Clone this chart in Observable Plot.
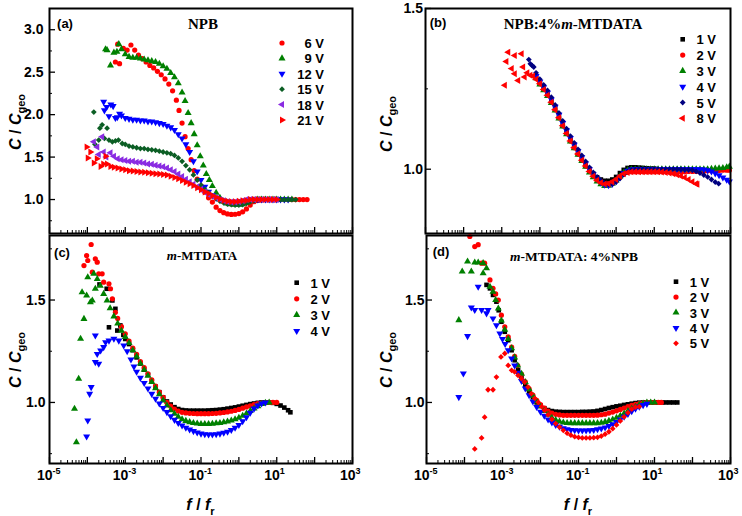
<!DOCTYPE html>
<html><head><meta charset="utf-8">
<script src="https://cdn.jsdelivr.net/npm/d3@7"></script>
<script src="https://cdn.jsdelivr.net/npm/@observablehq/plot@0.6"></script>
<style>
body{margin:0;background:#fff;}
#root{position:relative;width:742px;height:516px;overflow:hidden;background:#fff;}
</style></head><body><div id="root"></div>
<script>
// ---------- DATA: [log10(f/fr), C/Cgeo] ----------
// Panel (a) NPB
const a6V = [[-3.26,2.62],[-3.15,2.60],[-3.20,2.83],[-3.05,2.78],[-2.95,2.76],[-2.85,2.82],[-2.75,2.76],[-2.65,2.70],[-2.55,2.66],[-2.45,2.62],[-2.35,2.58],[-2.25,2.55],[-2.15,2.51],[-2.05,2.47],[-1.95,2.42],[-1.85,2.36],[-1.75,2.28],[-1.65,2.17],[-1.58,2.05],[-1.50,1.90],[-1.42,1.74],[-1.34,1.60],[-1.26,1.47],[-1.18,1.34],[-1.10,1.24],[-1.00,1.16],[-0.90,1.09],[-0.80,1.02],[-0.70,0.97],[-0.60,0.91],[-0.50,0.87],[-0.40,0.845],[-0.30,0.83],[-0.20,0.825],[-0.10,0.827],[0.00,0.835],[0.10,0.855],[0.20,0.89],[0.30,0.935],[0.40,0.975],[0.50,0.99],[0.60,0.995],[0.70,1.0],[0.80,1.0],[0.90,1.0],[1.00,1.0],[1.10,1.0],[1.20,1.0],[1.30,1.0],[1.40,1.0],[1.50,1.0],[1.60,1.0],[1.70,1.0],[1.80,1.0]];
const a9V = [[-3.52,2.77],[-3.48,2.76],[-3.39,2.58],[-3.30,2.73],[-3.22,2.74],[-3.17,2.83],[-3.10,2.77],[-3.00,2.71],[-2.90,2.68],[-2.80,2.67],[-2.70,2.67],[-2.60,2.66],[-2.50,2.65],[-2.40,2.64],[-2.30,2.63],[-2.20,2.62],[-2.10,2.60],[-2.00,2.57],[-1.90,2.54],[-1.80,2.49],[-1.70,2.44],[-1.60,2.37],[-1.50,2.26],[-1.42,2.16],[-1.34,2.02],[-1.26,1.90],[-1.18,1.77],[-1.10,1.64],[-1.02,1.51],[-0.94,1.40],[-0.86,1.30],[-0.78,1.23],[-0.70,1.16],[-0.60,1.08],[-0.50,1.02],[-0.40,0.98],[-0.30,0.955],[-0.20,0.945],[-0.10,0.94],[0.00,0.94],[0.10,0.945],[0.20,0.96],[0.30,0.98],[0.40,0.99],[0.50,1.0],[0.60,1.0],[0.70,1.0],[0.80,1.0],[0.90,1.0],[1.00,1.0],[1.10,1.0],[1.20,1.0],[1.30,1.0],[1.40,1.0]];
const a12V = [[-3.57,2.15],[-3.55,2.05],[-3.49,2.09],[-3.43,1.98],[-3.38,2.12],[-3.32,2.10],[-3.26,1.96],[-3.21,1.97],[-3.15,2.01],[-3.10,1.99],[-3.00,1.96],[-2.90,1.95],[-2.80,1.94],[-2.70,1.94],[-2.60,1.93],[-2.50,1.93],[-2.40,1.92],[-2.30,1.92],[-2.20,1.91],[-2.10,1.90],[-2.00,1.89],[-1.90,1.87],[-1.80,1.85],[-1.70,1.82],[-1.60,1.77],[-1.50,1.72],[-1.40,1.65],[-1.30,1.56],[-1.20,1.45],[-1.10,1.33],[-1.00,1.23],[-0.90,1.15],[-0.80,1.09],[-0.70,1.05],[-0.60,1.02],[-0.50,1.0],[-0.40,0.985],[-0.30,0.975],[-0.20,0.97],[-0.10,0.97],[0.00,0.975],[0.10,0.98],[0.20,0.99],[0.30,1.0],[0.40,1.0],[0.50,1.0],[0.60,1.0],[0.70,1.0],[0.80,1.0],[0.90,1.0],[1.00,1.0],[1.10,1.0],[1.20,1.0],[1.30,1.0]];
const a15V = [[-3.83,2.03],[-3.80,1.65],[-3.70,1.70],[-3.67,1.84],[-3.61,1.88],[-3.55,1.72],[-3.48,1.84],[-3.43,1.70],[-3.34,1.68],[-3.26,1.69],[-3.18,1.70],[-3.08,1.66],[-3.00,1.65],[-2.90,1.63],[-2.80,1.62],[-2.70,1.61],[-2.60,1.60],[-2.50,1.60],[-2.40,1.59],[-2.30,1.585],[-2.20,1.58],[-2.10,1.57],[-2.00,1.56],[-1.90,1.55],[-1.80,1.54],[-1.70,1.52],[-1.60,1.49],[-1.50,1.45],[-1.40,1.40],[-1.30,1.35],[-1.20,1.29],[-1.10,1.23],[-1.00,1.17],[-0.90,1.12],[-0.80,1.08],[-0.70,1.04],[-0.60,1.01],[-0.50,0.98],[-0.40,0.96],[-0.30,0.945],[-0.20,0.94],[-0.10,0.935],[0.00,0.935],[0.10,0.94],[0.20,0.955],[0.30,0.975],[0.40,0.99],[0.50,1.0],[0.60,1.0],[0.70,1.0],[0.80,1.0],[0.90,1.0],[1.00,1.0],[1.10,1.0],[1.20,1.0],[1.30,1.0],[1.40,1.0],[1.50,1.0]];
const a18V = [[-3.83,1.68],[-3.74,1.62],[-3.70,1.53],[-3.61,1.74],[-3.57,1.56],[-3.50,1.50],[-3.39,1.55],[-3.30,1.51],[-3.20,1.48],[-3.10,1.47],[-3.00,1.46],[-2.90,1.45],[-2.80,1.45],[-2.70,1.44],[-2.60,1.44],[-2.50,1.43],[-2.40,1.42],[-2.30,1.415],[-2.20,1.405],[-2.10,1.395],[-2.00,1.385],[-1.90,1.37],[-1.80,1.35],[-1.70,1.33],[-1.60,1.30],[-1.50,1.27],[-1.40,1.24],[-1.30,1.21],[-1.20,1.18],[-1.10,1.15],[-1.00,1.12],[-0.90,1.09],[-0.80,1.06],[-0.70,1.04],[-0.60,1.02],[-0.50,1.0],[-0.40,0.985],[-0.30,0.975],[-0.20,0.97],[-0.10,0.97],[0.00,0.975],[0.10,0.985],[0.20,1.0],[0.30,1.0],[0.40,1.0],[0.50,1.0],[0.60,1.0],[0.70,1.0],[0.80,1.0],[0.90,1.0],[1.00,1.0]];
const a21V = [[-4.02,1.62],[-3.99,1.49],[-3.92,1.56],[-3.83,1.43],[-3.75,1.48],[-3.65,1.39],[-3.58,1.42],[-3.52,1.51],[-3.48,1.42],[-3.39,1.39],[-3.30,1.38],[-3.20,1.37],[-3.10,1.36],[-3.00,1.35],[-2.90,1.34],[-2.80,1.335],[-2.70,1.33],[-2.60,1.325],[-2.50,1.32],[-2.40,1.315],[-2.30,1.31],[-2.20,1.305],[-2.10,1.30],[-2.00,1.295],[-1.90,1.29],[-1.80,1.275],[-1.70,1.26],[-1.60,1.245],[-1.50,1.225],[-1.40,1.205],[-1.30,1.185],[-1.20,1.165],[-1.10,1.14],[-1.00,1.115],[-0.90,1.09],[-0.80,1.07],[-0.70,1.045],[-0.60,1.025],[-0.50,1.005],[-0.40,0.99],[-0.30,0.98],[-0.20,0.975],[-0.10,0.975],[0.00,0.98],[0.10,0.985],[0.20,0.99],[0.30,1.0],[0.40,1.0],[0.50,1.0],[0.60,1.0],[0.70,1.0],[0.80,1.0],[0.90,1.0],[1.00,1.0]];

// Panel (b) NPB:4% m-MTDATA
const b1V = [[-2.10,1.29],[-2.00,1.272],[-1.90,1.255],[-1.80,1.238],[-1.70,1.216],[-1.60,1.193],[-1.50,1.168],[-1.40,1.143],[-1.30,1.119],[-1.20,1.096],[-1.10,1.075],[-1.00,1.056],[-0.90,1.037],[-0.80,1.018],[-0.70,1.0],[-0.60,0.986],[-0.50,0.975],[-0.40,0.968],[-0.30,0.964],[-0.20,0.964],[-0.10,0.968],[0.00,0.976],[0.10,0.988],[0.20,0.998],[0.30,1.004],[0.40,1.006],[0.50,1.006],[0.60,1.005],[0.70,1.004],[0.80,1.003],[0.90,1.002],[1.00,1.002]];
const b2V = [[-2.10,1.285],[-2.00,1.266],[-1.90,1.248],[-1.80,1.23],[-1.70,1.208],[-1.60,1.185],[-1.50,1.16],[-1.40,1.135],[-1.30,1.111],[-1.20,1.088],[-1.10,1.067],[-1.00,1.047],[-0.90,1.028],[-0.80,1.01],[-0.70,0.993],[-0.60,0.978],[-0.50,0.966],[-0.40,0.958],[-0.30,0.954],[-0.20,0.955],[-0.10,0.96],[0.00,0.968],[0.10,0.978],[0.20,0.986],[0.30,0.99],[0.40,0.992],[0.50,0.992],[0.60,0.992],[0.70,0.992],[0.80,0.992],[0.90,0.992],[1.00,0.992],[1.10,0.992],[1.20,0.992],[1.30,0.992],[1.40,0.992],[1.50,0.992],[1.60,0.992],[1.70,0.992],[1.80,0.992],[1.90,0.993],[2.00,0.993],[2.10,0.993],[2.20,0.994],[2.30,0.994],[2.40,0.995],[2.50,0.995],[2.60,0.996],[2.70,0.996],[2.80,0.997],[2.90,0.997],[2.97,0.997]];
const b3V = [[-2.10,1.283],[-2.00,1.264],[-1.90,1.246],[-1.80,1.228],[-1.70,1.206],[-1.60,1.183],[-1.50,1.158],[-1.40,1.133],[-1.30,1.109],[-1.20,1.086],[-1.10,1.065],[-1.00,1.045],[-0.90,1.026],[-0.80,1.008],[-0.70,0.99],[-0.60,0.975],[-0.50,0.962],[-0.40,0.953],[-0.30,0.948],[-0.20,0.949],[-0.10,0.955],[0.00,0.965],[0.10,0.978],[0.20,0.99],[0.30,0.997],[0.40,1.0],[0.50,1.0],[0.60,1.0],[0.70,1.0],[0.80,1.0],[0.90,1.0],[1.00,1.0],[1.10,1.0],[1.20,1.0],[1.30,1.0],[1.40,1.0],[1.50,1.0],[1.60,1.0],[1.70,1.0],[1.80,1.0],[1.90,1.0],[2.00,1.0],[2.10,1.0],[2.20,1.0],[2.30,1.0],[2.40,1.0],[2.50,1.001],[2.60,1.002],[2.70,1.003],[2.80,1.004],[2.90,1.006],[2.97,1.008]];
const b4V = [[-2.10,1.29],[-2.00,1.272],[-1.90,1.255],[-1.80,1.238],[-1.70,1.217],[-1.60,1.194],[-1.50,1.169],[-1.40,1.144],[-1.30,1.12],[-1.20,1.097],[-1.10,1.076],[-1.00,1.056],[-0.90,1.037],[-0.80,1.018],[-0.70,1.0],[-0.60,0.984],[-0.50,0.97],[-0.40,0.959],[-0.30,0.952],[-0.20,0.95],[-0.10,0.954],[0.00,0.963],[0.10,0.975],[0.20,0.987],[0.30,0.995],[0.40,0.999],[0.50,1.0],[0.60,1.0],[0.70,1.0],[0.80,1.0],[0.90,1.0],[1.00,1.0],[1.10,1.0],[1.20,1.0],[1.30,1.0],[1.40,1.0],[1.50,1.0],[1.60,1.0],[1.70,1.0],[1.80,1.0],[1.90,1.0],[2.00,1.0],[2.10,1.0],[2.20,1.0],[2.30,0.999],[2.40,0.997],[2.50,0.993],[2.60,0.987],[2.70,0.981],[2.80,0.974],[2.90,0.967],[2.97,0.962]];
const b5V = [[-2.29,1.341],[-2.25,1.328],[-2.20,1.322],[-2.16,1.318],[-2.10,1.30],[-2.00,1.28],[-1.90,1.262],[-1.80,1.245],[-1.70,1.224],[-1.60,1.20],[-1.50,1.175],[-1.40,1.15],[-1.30,1.126],[-1.20,1.103],[-1.10,1.082],[-1.00,1.062],[-0.90,1.043],[-0.80,1.024],[-0.70,1.006],[-0.60,0.99],[-0.50,0.976],[-0.40,0.965],[-0.30,0.957],[-0.20,0.953],[-0.10,0.954],[0.00,0.96],[0.10,0.971],[0.20,0.983],[0.30,0.992],[0.40,0.997],[0.50,0.999],[0.60,1.0],[0.70,1.0],[0.80,1.0],[0.90,1.0],[1.00,1.0],[1.10,1.0],[1.20,1.0],[1.30,1.0],[1.40,1.0],[1.50,1.0],[1.60,1.0],[1.70,1.0],[1.80,0.999],[1.90,0.999],[2.00,0.997],[2.10,0.993],[2.20,0.988],[2.30,0.982],[2.40,0.976],[2.50,0.968],[2.60,0.96],[2.69,0.955]];
const b8V = [[-2.92,1.261],[-2.88,1.335],[-2.83,1.364],[-2.74,1.313],[-2.66,1.297],[-2.66,1.354],[-2.57,1.276],[-2.48,1.359],[-2.44,1.318],[-2.40,1.287],[-2.33,1.30],[-2.25,1.292],[-2.18,1.29],[-2.10,1.28],[-2.00,1.266],[-1.90,1.248],[-1.80,1.23],[-1.70,1.208],[-1.60,1.185],[-1.50,1.16],[-1.40,1.135],[-1.30,1.111],[-1.20,1.088],[-1.10,1.067],[-1.00,1.047],[-0.90,1.028],[-0.80,1.01],[-0.70,0.993],[-0.60,0.978],[-0.50,0.966],[-0.40,0.958],[-0.30,0.954],[-0.20,0.955],[-0.10,0.96],[0.00,0.968],[0.10,0.978],[0.20,0.986],[0.30,0.99],[0.40,0.992],[0.50,0.992],[0.60,0.992],[0.70,0.992],[0.80,0.992],[0.90,0.992],[1.00,0.992],[1.10,0.992],[1.20,0.991],[1.30,0.99],[1.40,0.988],[1.50,0.986],[1.60,0.983],[1.70,0.979],[1.80,0.974],[1.90,0.968],[2.00,0.961],[2.10,0.955],[2.13,0.953]];

// Panel (c) m-MTDATA
const c1V = [[-3.68,1.576],[-3.49,1.555],[-3.43,1.367],[-3.34,1.498],[-3.26,1.457],[-3.21,1.351],[-3.13,1.376],[-3.05,1.33],[-3.00,1.31],[-2.90,1.285],[-2.80,1.255],[-2.70,1.22],[-2.60,1.19],[-2.50,1.16],[-2.40,1.135],[-2.30,1.105],[-2.20,1.077],[-2.10,1.05],[-2.00,1.025],[-1.90,1.005],[-1.80,0.99],[-1.70,0.977],[-1.60,0.968],[-1.50,0.963],[-1.40,0.961],[-1.30,0.96],[-1.20,0.96],[-1.10,0.96],[-1.00,0.96],[-0.90,0.96],[-0.80,0.961],[-0.70,0.962],[-0.60,0.963],[-0.50,0.965],[-0.40,0.967],[-0.30,0.97],[-0.20,0.973],[-0.10,0.976],[0.00,0.98],[0.10,0.984],[0.20,0.988],[0.30,0.992],[0.40,0.995],[0.50,0.998],[0.60,1.0],[0.70,1.0],[0.80,1.0],[0.90,0.998],[1.00,0.993],[1.10,0.985],[1.20,0.975],[1.30,0.962],[1.36,0.952]];
const c2V = [[-4.09,1.668],[-4.02,1.717],[-3.99,1.693],[-3.90,1.771],[-3.87,1.636],[-3.79,1.701],[-3.74,1.685],[-3.70,1.628],[-3.61,1.628],[-3.57,1.587],[-3.43,1.579],[-3.39,1.555],[-3.34,1.506],[-3.26,1.44],[-3.20,1.41],[-3.10,1.37],[-3.00,1.335],[-2.90,1.30],[-2.80,1.265],[-2.70,1.235],[-2.60,1.20],[-2.50,1.17],[-2.40,1.14],[-2.30,1.11],[-2.20,1.08],[-2.10,1.05],[-2.00,1.025],[-1.90,1.0],[-1.80,0.982],[-1.70,0.968],[-1.60,0.958],[-1.50,0.952],[-1.40,0.949],[-1.30,0.947],[-1.20,0.946],[-1.10,0.945],[-1.00,0.945],[-0.90,0.945],[-0.80,0.945],[-0.70,0.946],[-0.60,0.947],[-0.50,0.949],[-0.40,0.951],[-0.30,0.954],[-0.20,0.957],[-0.10,0.961],[0.00,0.966],[0.10,0.972],[0.20,0.978],[0.30,0.984],[0.40,0.99],[0.50,0.994],[0.60,0.997],[0.70,0.999],[0.80,1.0],[0.90,1.0],[1.00,1.0]];
const c3V = [[-4.34,0.969],[-4.29,0.806],[-4.23,1.116],[-4.18,1.311],[-4.14,1.538],[-4.09,1.408],[-4.02,1.522],[-3.99,1.611],[-3.92,1.489],[-3.87,1.498],[-3.83,1.628],[-3.79,1.555],[-3.74,1.603],[-3.66,1.57],[-3.57,1.53],[-3.48,1.498],[-3.40,1.46],[-3.30,1.42],[-3.20,1.385],[-3.10,1.35],[-3.00,1.32],[-2.90,1.29],[-2.80,1.255],[-2.70,1.225],[-2.60,1.19],[-2.50,1.16],[-2.40,1.13],[-2.30,1.10],[-2.20,1.07],[-2.10,1.04],[-2.00,1.01],[-1.90,0.985],[-1.80,0.962],[-1.70,0.945],[-1.60,0.93],[-1.50,0.918],[-1.40,0.91],[-1.30,0.904],[-1.20,0.90],[-1.10,0.897],[-1.00,0.895],[-0.90,0.895],[-0.80,0.895],[-0.70,0.896],[-0.60,0.898],[-0.50,0.90],[-0.40,0.903],[-0.30,0.907],[-0.20,0.912],[-0.10,0.918],[0.00,0.925],[0.10,0.935],[0.20,0.946],[0.30,0.958],[0.40,0.97],[0.50,0.982],[0.60,0.992],[0.70,0.998],[0.80,1.0]];
const c4V = [[-4.02,0.834],[-3.99,0.912],[-3.94,1.042],[-3.90,1.075],[-3.79,1.197],[-3.79,1.327],[-3.74,1.237],[-3.70,1.189],[-3.65,1.254],[-3.57,1.27],[-3.52,1.294],[-3.43,1.302],[-3.30,1.311],[-3.17,1.302],[-3.04,1.278],[-2.95,1.25],[-2.85,1.21],[-2.77,1.175],[-2.70,1.15],[-2.60,1.12],[-2.50,1.095],[-2.40,1.068],[-2.30,1.042],[-2.20,1.018],[-2.10,0.995],[-2.00,0.973],[-1.90,0.953],[-1.80,0.933],[-1.70,0.915],[-1.60,0.90],[-1.50,0.888],[-1.40,0.877],[-1.30,0.868],[-1.20,0.86],[-1.10,0.853],[-1.00,0.848],[-0.90,0.845],[-0.80,0.844],[-0.70,0.844],[-0.60,0.845],[-0.50,0.848],[-0.40,0.852],[-0.30,0.857],[-0.20,0.866],[-0.10,0.877],[0.00,0.89],[0.10,0.908],[0.20,0.928],[0.30,0.95],[0.40,0.97],[0.50,0.985],[0.60,0.995],[0.70,1.0]];

// Panel (d) m-MTDATA: 4% NPB
const d1V = [[-3.42,1.574],[-3.33,1.557],[-3.25,1.525],[-3.16,1.492],[-3.10,1.45],[-3.03,1.394],[-2.94,1.345],[-2.85,1.304],[-2.76,1.255],[-2.68,1.206],[-2.59,1.157],[-2.50,1.12],[-2.40,1.087],[-2.30,1.053],[-2.20,1.025],[-2.10,1.0],[-2.00,0.985],[-1.90,0.972],[-1.80,0.963],[-1.70,0.958],[-1.60,0.955],[-1.50,0.954],[-1.40,0.953],[-1.30,0.953],[-1.20,0.953],[-1.10,0.953],[-1.00,0.953],[-0.90,0.954],[-0.80,0.954],[-0.70,0.955],[-0.60,0.956],[-0.50,0.959],[-0.40,0.963],[-0.30,0.968],[-0.20,0.973],[-0.10,0.977],[0.00,0.981],[0.10,0.984],[0.20,0.988],[0.30,0.991],[0.40,0.994],[0.50,0.997],[0.60,0.999],[0.70,1.0],[0.80,1.0],[0.90,1.0],[1.00,1.0],[1.10,1.0],[1.20,1.0],[1.30,1.0],[1.40,1.0],[1.50,1.0],[1.60,1.0]];
const d2V = [[-3.86,1.81],[-3.73,1.761],[-3.64,1.77],[-3.55,1.68],[-3.47,1.68],[-3.33,1.598],[-3.25,1.557],[-3.18,1.53],[-3.11,1.50],[-3.03,1.426],[-2.94,1.369],[-2.85,1.32],[-2.76,1.27],[-2.68,1.225],[-2.60,1.18],[-2.50,1.138],[-2.40,1.10],[-2.30,1.067],[-2.20,1.036],[-2.10,1.01],[-2.00,0.99],[-1.90,0.972],[-1.80,0.958],[-1.70,0.948],[-1.60,0.942],[-1.50,0.939],[-1.40,0.937],[-1.30,0.937],[-1.20,0.937],[-1.10,0.937],[-1.00,0.937],[-0.90,0.937],[-0.80,0.937],[-0.70,0.937],[-0.60,0.937],[-0.50,0.938],[-0.40,0.94],[-0.30,0.943],[-0.20,0.948],[-0.10,0.953],[0.00,0.959],[0.10,0.966],[0.20,0.973],[0.30,0.98],[0.40,0.986],[0.50,0.991],[0.60,0.995],[0.70,0.998],[0.80,1.0],[0.90,1.0],[1.00,1.0],[1.10,1.0],[1.18,1.0]];
const d3V = [[-4.15,1.402],[-4.06,1.639],[-3.92,1.688],[-3.82,1.639],[-3.73,1.683],[-3.64,1.683],[-3.51,1.68],[-3.51,1.631],[-3.42,1.655],[-3.33,1.565],[-3.25,1.54],[-3.18,1.50],[-3.11,1.459],[-3.03,1.40],[-2.94,1.355],[-2.85,1.31],[-2.76,1.265],[-2.68,1.22],[-2.60,1.18],[-2.50,1.14],[-2.40,1.10],[-2.30,1.065],[-2.20,1.033],[-2.10,1.005],[-2.00,0.98],[-1.90,0.958],[-1.80,0.94],[-1.70,0.925],[-1.60,0.914],[-1.50,0.907],[-1.40,0.902],[-1.30,0.90],[-1.20,0.899],[-1.10,0.899],[-1.00,0.899],[-0.90,0.899],[-0.80,0.899],[-0.70,0.899],[-0.60,0.899],[-0.50,0.899],[-0.40,0.901],[-0.30,0.905],[-0.20,0.91],[-0.10,0.917],[0.00,0.925],[0.10,0.935],[0.20,0.946],[0.30,0.958],[0.40,0.969],[0.50,0.979],[0.60,0.988],[0.70,0.995],[0.80,0.999],[0.90,1.0],[1.00,1.0]];
const d4V = [[-4.15,1.026],[-4.03,1.141],[-3.92,1.324],[-3.82,1.464],[-3.73,1.451],[-3.64,1.565],[-3.55,1.451],[-3.42,1.435],[-3.38,1.451],[-3.25,1.41],[-3.16,1.377],[-3.07,1.337],[-3.00,1.31],[-2.93,1.285],[-2.85,1.255],[-2.76,1.215],[-2.68,1.18],[-2.60,1.145],[-2.50,1.105],[-2.40,1.068],[-2.30,1.035],[-2.20,1.005],[-2.10,0.978],[-2.00,0.955],[-1.90,0.935],[-1.80,0.917],[-1.70,0.902],[-1.60,0.89],[-1.50,0.881],[-1.40,0.874],[-1.30,0.869],[-1.20,0.866],[-1.10,0.864],[-1.00,0.863],[-0.90,0.863],[-0.80,0.863],[-0.70,0.864],[-0.60,0.866],[-0.50,0.869],[-0.40,0.873],[-0.30,0.878],[-0.20,0.885],[-0.10,0.894],[0.00,0.905],[0.10,0.917],[0.20,0.93],[0.30,0.944],[0.40,0.957],[0.50,0.969],[0.60,0.979],[0.70,0.987],[0.80,0.993]];
const d5V = [[-3.73,0.773],[-3.55,0.827],[-3.47,0.928],[-3.38,1.062],[-3.25,1.062],[-3.16,1.124],[-3.04,1.222],[-2.94,1.239],[-2.85,1.181],[-2.76,1.157],[-2.68,1.149],[-2.59,1.132],[-2.50,1.116],[-2.42,1.10],[-2.33,1.075],[-2.24,1.043],[-2.15,1.02],[-2.06,1.001],[-1.97,0.98],[-1.89,0.961],[-1.80,0.94],[-1.70,0.918],[-1.60,0.897],[-1.50,0.88],[-1.40,0.864],[-1.30,0.85],[-1.20,0.84],[-1.10,0.833],[-1.00,0.829],[-0.90,0.827],[-0.80,0.827],[-0.70,0.827],[-0.60,0.828],[-0.50,0.83],[-0.40,0.836],[-0.30,0.845],[-0.20,0.857],[-0.10,0.872],[0.00,0.89],[0.10,0.91],[0.20,0.93],[0.30,0.95],[0.40,0.967],[0.50,0.977],[0.60,0.98]];

// Axis ticks
const xDecades = [-5,-4,-3,-2,-1,0,1,2,3];
const xLabelExps = [-5,-3,-1,1,3];
const yMajorA = [1.0,1.5,2.0,2.5,3.0], yMinorA = [0.75,1.25,1.75,2.25,2.75];
const yMajorB = [1.0,1.5], yMinorB = [1.25];
const yMajorCD = [1.0,1.5], yMinorCD = [0.75,1.25,1.75];

// ---------- STYLE ----------
const RED="#ff0000", GREEN="#008000", BLUE="#0000ff", DKGREEN="#0b5e24", VIOLET="#8a2be2", NAVY="#000080", BLACK="#000000";
const SANS = "'Liberation Sans', Arial, Helvetica, sans-serif";
const SERIF = "'Liberation Serif', 'Times New Roman', serif";
const SYM = {circle:["circle",0], up:["triangle",0], down:["triangle",180], left:["triangle",-90], right:["triangle",90], square:["square",0], diamond:["diamond2",0]};
const D3SYM = {circle:d3.symbolCircle, triangle:d3.symbolTriangle, square:d3.symbolSquare, diamond2:d3.symbolDiamond2};

const panels = [
  {left:0, top:0, width:371, height:240, margin:[8,19,7,49], yDomain:[0.6,3.25], yMajor:yMajorA, yMinor:yMinorA, yPad:6, showX:false,
   tag:"(a)", tagPos:[65,28], title:[{t:"NPB"}], titlePos:[203,29], titleSize:15,
   legend:{x:282, textX:324, y0:43, dy:15.4}, yLabelY:122,
   series:[{n:"6 V",d:a6V,s:"circle",c:RED},{n:"9 V",d:a9V,s:"up",c:GREEN},{n:"12 V",d:a12V,s:"down",c:BLUE},{n:"15 V",d:a15V,s:"diamond",c:DKGREEN},{n:"18 V",d:a18V,s:"left",c:VIOLET},{n:"21 V",d:a21V,s:"right",c:RED}]},
  {left:371, top:0, width:371, height:240, margin:[8,12,7,54], yDomain:[0.8,1.5], yMajor:yMajorB, yMinor:yMinorB, yPad:2.5, showX:false,
   tag:"(b)", tagPos:[67,27], title:[{t:"NPB:4%"},{t:"m",i:true},{t:"-MTDATA"}], titlePos:[202,29], titleSize:15,
   legend:{x:311.7, textX:345, y0:39.3, dy:15.8}, yLabelY:124,
   series:[{n:"1 V",d:b1V,s:"square",c:BLACK},{n:"2 V",d:b2V,s:"circle",c:RED},{n:"3 V",d:b3V,s:"up",c:GREEN},{n:"4 V",d:b4V,s:"down",c:BLUE},{n:"5 V",d:b5V,s:"diamond",c:NAVY},{n:"8 V",d:b8V,s:"left",c:RED}]},
  {left:0, top:230, width:371, height:286, margin:[5,19,53,49], yDomain:[0.702,1.815], yMajor:yMajorCD, yMinor:yMinorCD, yPad:4, showX:true,
   tag:"(c)", tagPos:[62,27], title:[{t:"m",i:true},{t:"-MTDATA"}], titlePos:[202,30], titleSize:13,
   legend:{x:296.7, textX:330, y0:52.7, dy:16.1}, yLabelY:130,
   series:[{n:"1 V",d:c1V,s:"square",c:BLACK},{n:"2 V",d:c2V,s:"circle",c:RED},{n:"3 V",d:c3V,s:"up",c:GREEN},{n:"4 V",d:c4V,s:"down",c:BLUE}]},
  {left:371, top:230, width:371, height:286, margin:[5,12,53,55], yDomain:[0.702,1.815], yMajor:yMajorCD, yMinor:yMinorCD, yPad:2, showX:true,
   tag:"(d)", tagPos:[70,26], title:[{t:"m",i:true},{t:"-MTDATA: 4%NPB"}], titlePos:[203,31], titleSize:13.5,
   legend:{x:305, textX:338.3, y0:51.7, dy:15.4}, yLabelY:130,
   series:[{n:"1 V",d:d1V,s:"square",c:BLACK},{n:"2 V",d:d2V,s:"circle",c:RED},{n:"3 V",d:d3V,s:"up",c:GREEN},{n:"4 V",d:d4V,s:"down",c:BLUE},{n:"5 V",d:d5V,s:"diamond",c:RED}]}
];

const R = 2.6;

function rich(sel, x, y, parts, o) {
  const t = sel.append("text")
    .attr("text-anchor", o.anchor || "start")
    .attr("font-family", o.family || SANS)
    .attr("font-size", o.size || 14)
    .attr("font-weight", "bold")
    .attr("fill", "black");
  if (o.rotate) t.attr("transform", `translate(${x},${y}) rotate(${o.rotate})`);
  else t.attr("x", x).attr("y", y);
  let shift = 0;
  for (const p of parts) {
    const s = t.append("tspan").text(p.t);
    if (p.i) s.attr("font-style", "italic");
    if (p.size) s.attr("font-size", p.size);
    const want = p.sub || 0;
    if (want !== shift) { s.attr("dy", want - shift); shift = want; }
  }
  return t;
}

const root = document.getElementById("root");
for (const P of panels) {
  const [mt, mr, mb, ml] = P.margin;
  const plotW = P.width - ml - mr, plotH = P.height - mt - mb;
  const xMinor = [];
  for (const e of xDecades.slice(0, -1)) for (let k = 2; k <= 9; k++) xMinor.push(k * 10 ** e);
  const marks = [
    Plot.tickX(xMinor, {x: d => d, insetTop: plotH - 3, stroke: "black", strokeWidth: 1}),
    Plot.tickX(xDecades, {x: d => 10 ** d, insetTop: plotH - 6, stroke: "black", strokeWidth: 1.3}),
    Plot.tickY(P.yMinor, {y: d => d, insetRight: plotW - 3, stroke: "black", strokeWidth: 1}),
    Plot.tickY(P.yMajor, {y: d => d, insetRight: plotW - 6, stroke: "black", strokeWidth: 1.3}),
  ];
  for (const s of P.series) {
    const [sym, rot] = SYM[s.s];
    marks.push(Plot.dot(s.d, {x: d => 10 ** d[0], y: d => d[1], symbol: sym, rotate: rot, r: R, fill: s.c, stroke: "none"}));
  }
  marks.push(Plot.frame({stroke: "black", strokeWidth: 2}));
  marks.push(Plot.text(P.yMajor, {y: d => d, text: d => d.toFixed(1), frameAnchor: "left", textAnchor: "end", dx: -P.yPad, fontSize: 14, fontWeight: "bold"}));
  if (P.showX) {
    marks.push(Plot.text(xLabelExps, {x: d => 10 ** d, text: () => "10", frameAnchor: "bottom", textAnchor: "end", dx: 3, dy: 16, fontSize: 14, fontWeight: "bold"}));
    marks.push(Plot.text(xLabelExps, {x: d => 10 ** d, text: d => (d < 0 ? "-" : "") + Math.abs(d), frameAnchor: "bottom", textAnchor: "start", dx: 3, dy: 10, fontSize: 9, fontWeight: "bold"}));
  }
  const svg = Plot.plot({
    width: P.width, height: P.height,
    marginTop: mt, marginRight: mr, marginBottom: mb, marginLeft: ml,
    x: {type: "log", domain: [1e-5, 1e3], axis: null},
    y: {domain: P.yDomain, axis: null},
    style: {fontFamily: SANS, fontSize: "14px", fontWeight: "bold", background: "transparent", overflow: "visible", color: "black"},
    marks
  });
  svg.style.position = "absolute";
  svg.style.left = P.left + "px";
  svg.style.top = P.top + "px";
  svg.style.maxWidth = "none";
  const g = d3.select(svg).append("g");
  // panel tag and title
  g.append("text").attr("x", P.tagPos[0]).attr("y", P.tagPos[1]).attr("font-family", SANS).attr("font-size", 13).attr("font-weight", "bold").text(P.tag);
  rich(g, P.titlePos[0], P.titlePos[1], P.title, {anchor: "middle", family: SERIF, size: P.titleSize});
  // y label
  rich(g, 21, P.yLabelY, [{t: "C", i: true}, {t: " / "}, {t: "C", i: true}, {t: "geo", size: 11, sub: 4}], {anchor: "middle", size: 16, rotate: -90});
  // x label
  if (P.showX) rich(g, ml + plotW / 2, P.height - 6, [{t: "f", i: true}, {t: " / "}, {t: "f", i: true}, {t: "r", size: 11, sub: 5}], {anchor: "middle", size: 16});
  // legend
  P.series.forEach((s, i) => {
    const [sym, rot] = SYM[s.s];
    const y = P.legend.y0 + i * P.legend.dy;
    g.append("path").attr("d", d3.symbol(D3SYM[sym], Math.PI * R * R)()).attr("fill", s.c)
      .attr("transform", `translate(${P.legend.x},${y}) rotate(${rot})`);
    g.append("text").attr("x", P.legend.textX).attr("y", y + 5).attr("text-anchor", "end")
      .attr("font-family", SANS).attr("font-size", 13).attr("font-weight", "bold").text(s.n);
  });
  root.appendChild(svg);
}
</script></body></html>
